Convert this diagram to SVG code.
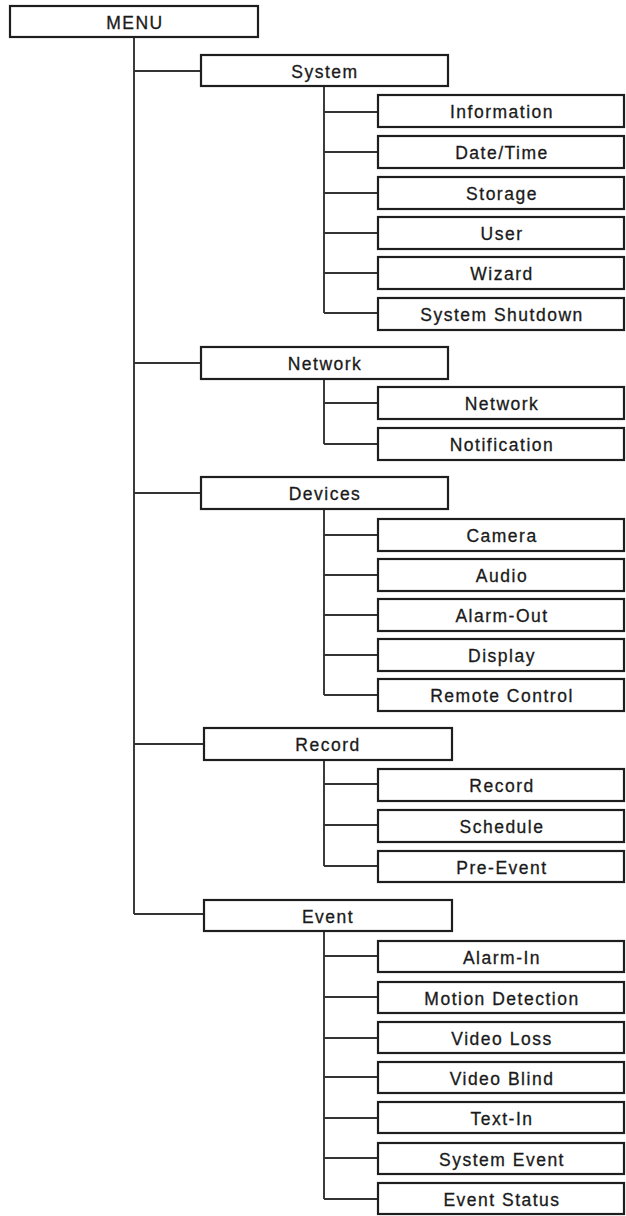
<svg xmlns="http://www.w3.org/2000/svg" width="626" height="1216" viewBox="0 0 626 1216">
<style>
.box{fill:#fff;stroke:#1e1e1e;stroke-width:2.2}
.t{font-family:"Liberation Sans",Arial,sans-serif;font-size:17.5px;fill:#1a1a1a;stroke:#1a1a1a;stroke-width:0.3;text-anchor:middle;letter-spacing:1.5px}
.c{fill:none;stroke:#333;stroke-width:1.9}
</style>
<rect width="626" height="1216" fill="#fff"/>
<g id="connectors">
<path class="c" d="M134,37V914M134,71H201M134,363H201M134,493H201M134,744H204M134,914H204"/>
<path class="c" d="M324,86V313M324,112H378M324,152H378M324,193H378M324,233H378M324,273H378M324,313H378"/>
<path class="c" d="M324,379V444M324,403H378M324,444H378"/>
<path class="c" d="M324,509V695M324,535H378M324,575H378M324,615H378M324,655H378M324,695H378"/>
<path class="c" d="M324,760V866M324,784H378M324,825H378M324,866H378"/>
<path class="c" d="M324,931V1199M324,956H378M324,997H378M324,1038H378M324,1077H378M324,1118H378M324,1158H378M324,1199H378"/>
</g>
<g id="menu"><rect class="box" x="10" y="6" width="248" height="31"/><text class="t" x="135" y="29">MENU</text></g>
<g id="system"><rect class="box" x="201" y="55" width="247" height="31"/><text class="t" x="325" y="78">System</text></g>
<g id="information"><rect class="box" x="378" y="95" width="246" height="32"/><text class="t" x="502" y="118">Information</text></g>
<g id="datetime"><rect class="box" x="378" y="136" width="246" height="32"/><text class="t" x="502" y="159">Date/Time</text></g>
<g id="storage"><rect class="box" x="378" y="177" width="246" height="32"/><text class="t" x="502" y="200">Storage</text></g>
<g id="user"><rect class="box" x="378" y="217" width="246" height="32"/><text class="t" x="502" y="240">User</text></g>
<g id="wizard"><rect class="box" x="378" y="257" width="246" height="32"/><text class="t" x="502" y="280">Wizard</text></g>
<g id="shutdown"><rect class="box" x="378" y="298" width="246" height="32"/><text class="t" x="502" y="321">System Shutdown</text></g>
<g id="network"><rect class="box" x="201" y="347" width="247" height="32"/><text class="t" x="325" y="370">Network</text></g>
<g id="network2"><rect class="box" x="378" y="387" width="246" height="32"/><text class="t" x="502" y="410">Network</text></g>
<g id="notification"><rect class="box" x="378" y="428" width="246" height="32"/><text class="t" x="502" y="451">Notification</text></g>
<g id="devices"><rect class="box" x="201" y="477" width="247" height="32"/><text class="t" x="325" y="500">Devices</text></g>
<g id="camera"><rect class="box" x="378" y="519" width="246" height="32"/><text class="t" x="502" y="542">Camera</text></g>
<g id="audio"><rect class="box" x="378" y="559" width="246" height="32"/><text class="t" x="502" y="582">Audio</text></g>
<g id="alarmout"><rect class="box" x="378" y="599" width="246" height="32"/><text class="t" x="502" y="622">Alarm-Out</text></g>
<g id="display"><rect class="box" x="378" y="639" width="246" height="32"/><text class="t" x="502" y="662">Display</text></g>
<g id="remote"><rect class="box" x="378" y="679" width="246" height="32"/><text class="t" x="502" y="702">Remote Control</text></g>
<g id="record"><rect class="box" x="204" y="728" width="248" height="32"/><text class="t" x="328" y="751">Record</text></g>
<g id="record2"><rect class="box" x="378" y="769" width="246" height="32"/><text class="t" x="502" y="792">Record</text></g>
<g id="schedule"><rect class="box" x="378" y="810" width="246" height="32"/><text class="t" x="502" y="833">Schedule</text></g>
<g id="preevent"><rect class="box" x="378" y="851" width="246" height="31"/><text class="t" x="502" y="874">Pre-Event</text></g>
<g id="event"><rect class="box" x="204" y="900" width="248" height="31"/><text class="t" x="328" y="923">Event</text></g>
<g id="alarmin"><rect class="box" x="378" y="941" width="246" height="31"/><text class="t" x="502" y="964">Alarm-In</text></g>
<g id="motion"><rect class="box" x="378" y="982" width="246" height="31"/><text class="t" x="502" y="1005">Motion Detection</text></g>
<g id="videoloss"><rect class="box" x="378" y="1022" width="246" height="31"/><text class="t" x="502" y="1045">Video Loss</text></g>
<g id="videoblind"><rect class="box" x="378" y="1062" width="246" height="31"/><text class="t" x="502" y="1085">Video Blind</text></g>
<g id="textin"><rect class="box" x="378" y="1102" width="246" height="31"/><text class="t" x="502" y="1125">Text-In</text></g>
<g id="sysevent"><rect class="box" x="378" y="1143" width="246" height="31"/><text class="t" x="502" y="1166">System Event</text></g>
<g id="eventstatus"><rect class="box" x="378" y="1183" width="246" height="31"/><text class="t" x="502" y="1206">Event Status</text></g>
</svg>
